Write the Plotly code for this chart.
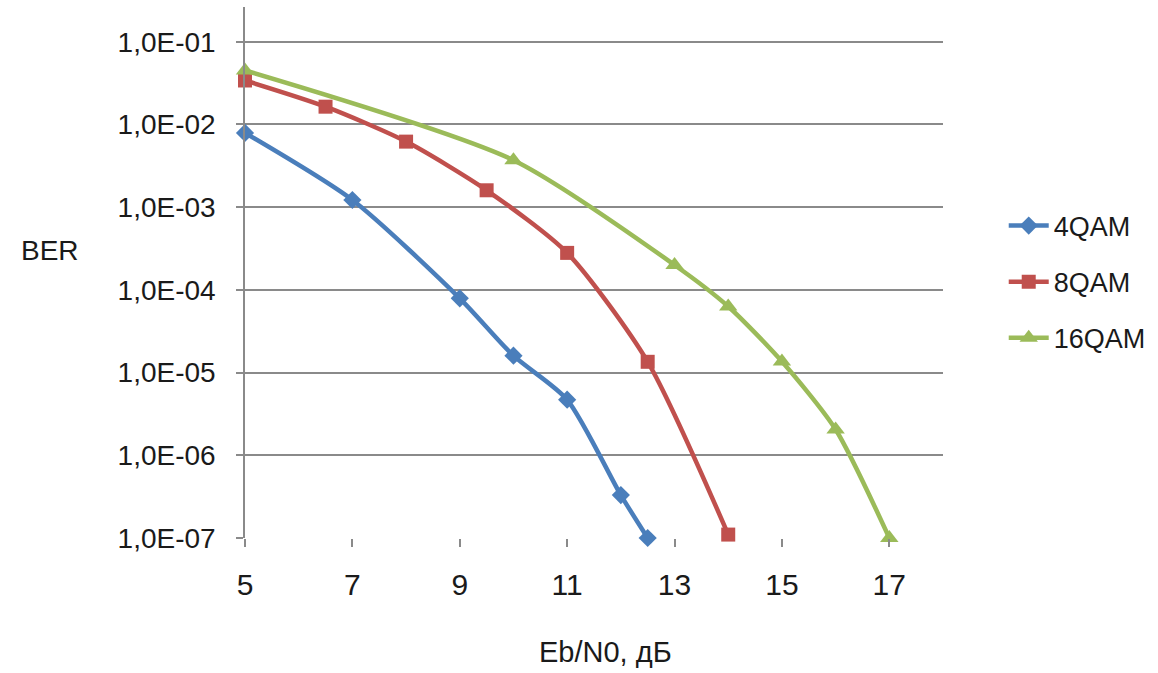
import plotly.graph_objects as go

# Data
x_4qam = [5, 7, 9, 10, 11, 12, 12.5]
y_4qam = [7.9e-3, 1.22e-3, 7.9e-5, 1.6e-5, 4.7e-6, 3.3e-7, 1.0e-7]

x_8qam = [5, 6.5, 8, 9.5, 11, 12.5, 14]
y_8qam = [3.4e-2, 1.64e-2, 6.2e-3, 1.6e-3, 2.8e-4, 1.35e-5, 1.1e-7]

x_16qam = [5, 10, 13, 14, 15, 16, 17]
y_16qam = [4.5e-2, 3.7e-3, 2.0e-4, 6.3e-5, 1.36e-5, 2.05e-6, 1.0e-7]

y_tickvals = [1e-7, 1e-6, 1e-5, 1e-4, 1e-3, 1e-2, 1e-1]
y_ticktext = ["1,0E-07", "1,0E-06", "1,0E-05", "1,0E-04", "1,0E-03", "1,0E-02", "1,0E-01"]
x_tickvals = [5, 7, 9, 11, 13, 15, 17]

FONT = "Liberation Sans, Arial, sans-serif"
TXT = "#1a1a1a"
GRID = "#8a8a8a"

fig = go.Figure()
series = [
    ("4QAM", x_4qam, y_4qam, "#4a7ebb", "diamond", 14),
    ("8QAM", x_8qam, y_8qam, "#c0504d", "square", 14),
    ("16QAM", x_16qam, y_16qam, "#9bbb59", "triangle-up", 16),
]
for name, xs, ys, col, sym, sz in series:
    fig.add_trace(go.Scatter(
        x=xs, y=ys, name=name, mode="lines+markers",
        line=dict(color=col, width=4.5, shape="spline", smoothing=0.7),
        marker=dict(symbol=sym, size=sz, color=col, line=dict(width=0)),
        cliponaxis=False, legendgroup=name,
    ))

fig.update_layout(
    width=1158, height=673,
    margin=dict(l=245, r=215, t=7, b=135, autoexpand=False),
    paper_bgcolor="white", plot_bgcolor="white",
    font=dict(family=FONT, size=27, color=TXT),
    showlegend=True,
    legend=dict(
        x=1.087, y=0.482, xanchor="left", yanchor="middle",
        font=dict(family=FONT, size=27, color=TXT),
        tracegroupgap=18, itemwidth=40,
        bgcolor="rgba(0,0,0,0)",
    ),
    xaxis=dict(
        range=[5, 18], tickvals=x_tickvals, ticks="outside", ticklen=8,
        tickcolor=GRID, tickwidth=1.5, showgrid=False, zeroline=False,
        showline=False, ticklabelstandoff=12, automargin=False,
        tickfont=dict(family=FONT, size=30, color=TXT),
    ),
    yaxis=dict(
        type="log", range=[-7, -0.58],
        tickvals=y_tickvals, ticktext=y_ticktext,
        ticks="outside", ticklen=7, tickcolor=GRID, tickwidth=2,
        showgrid=True, gridcolor=GRID, gridwidth=2,
        showline=True, linecolor=GRID, linewidth=1.5,
        zeroline=False, ticklabelstandoff=15, automargin=False,
        tickfont=dict(family=FONT, size=28, color=TXT),
    ),
    annotations=[
        dict(text="BER", xref="paper", yref="paper", x=-0.28, y=0.542,
             xanchor="center", yanchor="middle", showarrow=False,
             font=dict(family=FONT, size=28, color=TXT)),
        dict(text="Eb/N0, дБ", xref="paper", yref="paper", x=0.516, y=-0.215,
             xanchor="center", yanchor="middle", showarrow=False,
             font=dict(family=FONT, size=29, color=TXT)),
    ],
)

fig.write_html("out.html")
